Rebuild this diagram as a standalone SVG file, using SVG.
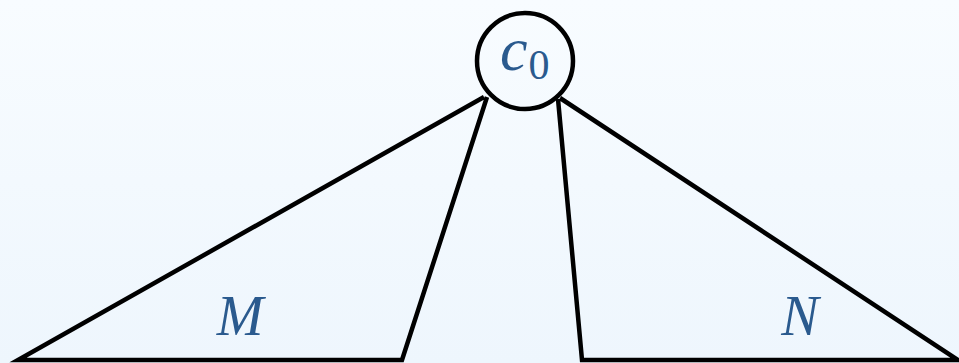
<svg xmlns="http://www.w3.org/2000/svg" width="959" height="363" viewBox="0 0 959 363">
<defs>
<linearGradient id="bg" x1="0" y1="0" x2="0" y2="1">
<stop offset="0" stop-color="#f8fcff"/>
<stop offset="1" stop-color="#eef6fd"/>
</linearGradient>
<style>
.e{fill:none;stroke:#000;stroke-width:4.5;stroke-linejoin:miter}
.t{font-family:'Liberation Serif','Times New Roman',serif;font-style:italic;fill:#2a5a8e}
</style>
</defs>
<rect width="959" height="363" fill="url(#bg)"/>
<g id="connectors">
<polyline class="e" points="484,97 18,360 402,360 487,97"/>
<polyline class="e" points="558,99 582,360 958,360 560,98"/>
</g>
<g id="c0">
<circle cx="525" cy="61" r="48" fill="none" stroke="#000" stroke-width="4.5"/>
<text class="t" x="500" y="70" font-size="62">c<tspan font-style="normal" font-size="42" dx="1" dy="9">0</tspan></text>
</g>
<g id="M"><text class="t" x="240" y="335" font-size="56" text-anchor="middle">M</text></g>
<g id="N"><text class="t" x="800" y="335" font-size="56" text-anchor="middle">N</text></g>
</svg>
